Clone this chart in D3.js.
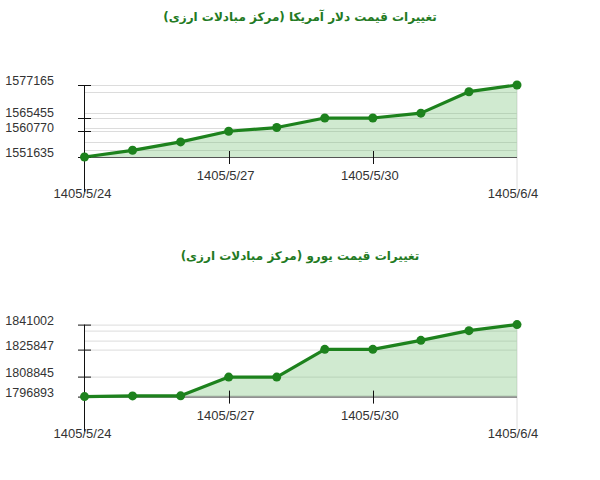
<!DOCTYPE html>
<html>
<head>
<meta charset="utf-8">
<script src="https://cdn.jsdelivr.net/npm/d3@7"></script>
<style>
  body { margin: 0; background: #fff; }
  svg { display: block; }
</style>
</head>
<body>
<svg id="chart" width="600" height="480"></svg>
<script>
// برچسب تاریخ‌ها (فقط چهار تاریخ روی نمودار نوشته شده)
const dateLabels = ['1405/5/24', '', '', '1405/5/27', '', '', '1405/5/30', '', '', '1405/6/4'];

// قیمت دلار
const usdTitle = 'تغییرات قیمت دلار آمریکا (مرکز مبادلات ارزی)';
const usdValues = [1551635, 1554010, 1556978, 1560770, 1562084, 1565455, 1565455, 1567190, 1574790, 1577165];

// قیمت یورو
const eurTitle = 'تغییرات قیمت یورو (مرکز مبادلات ارزی)';
const eurValues = [1796893, 1797303, 1797350, 1808845, 1808845, 1825847, 1825847, 1831360, 1837309, 1841002];

const svg = d3.select('#chart');

const x0 = 84.5, x1 = 517;
const plotTop = 85, plotBottom = 157;
const green = '#1d821d';

function drawChart(offsetY, title, values) {
  const g = svg.append('g').attr('transform', `translate(0, ${offsetY})`);

  const x = d3.scalePoint().domain(d3.range(values.length)).range([x0, x1]);
  const y = d3.scaleLinear().domain(d3.extent(values)).range([plotBottom, plotTop]);

  // عنوان
  g.append('text')
    .attr('x', 300).attr('y', 17)
    .attr('text-anchor', 'middle')
    .attr('dominant-baseline', 'middle')
    .attr('direction', 'rtl')
    .style('font-family', '"DejaVu Sans", sans-serif')
    .style('font-size', '12px')
    .style('font-weight', 'bold')
    .style('fill', '#237a23')
    .text(title);

  // خطوط راهنما برای هر مقدار
  const uniq = Array.from(new Set(values));
  g.selectAll('.grid')
    .data(uniq)
    .enter().append('line')
    .attr('x1', x0).attr('x2', x1)
    .attr('y1', d => Math.round(y(d)) + 0.5)
    .attr('y2', d => Math.round(y(d)) + 0.5)
    .attr('stroke', '#dcdcdc');

  // خط عمودی سمت راست
  g.append('line')
    .attr('x1', x1).attr('x2', x1)
    .attr('y1', plotTop).attr('y2', 190)
    .attr('stroke', '#dcdcdc');

  // ناحیه زیر نمودار
  const area = d3.area()
    .x((d, i) => x(i))
    .y0(plotBottom)
    .y1(d => y(d));

  g.append('path')
    .datum(values)
    .attr('d', area)
    .attr('fill', 'rgba(120, 195, 120, 0.35)');

  // خط پایه
  g.append('line')
    .attr('x1', x0).attr('x2', x1)
    .attr('y1', plotBottom + 0.5).attr('y2', plotBottom + 0.5)
    .attr('stroke', '#555');

  // محور عمودی
  g.append('line')
    .attr('x1', x0).attr('x2', x0)
    .attr('y1', plotTop).attr('y2', 192)
    .attr('stroke', '#111');

  // تیک‌های محور y: مقادیر روزهای برچسب‌دار
  const tickIdx = d3.range(values.length).filter(i => dateLabels[i] !== '');
  const yTicks = tickIdx.map(i => values[i]);

  g.selectAll('.ytick')
    .data(yTicks)
    .enter().append('line')
    .attr('x1', 78).attr('x2', 91)
    .attr('y1', d => Math.round(y(d)) + 0.5)
    .attr('y2', d => Math.round(y(d)) + 0.5)
    .attr('stroke', '#111');

  // جای برچسب‌ها؛ اگر خیلی نزدیک باشند کمی از هم دور می‌شوند
  const labelPos = yTicks.map(d => ({ v: d, ly: y(d) - 3 }));
  labelPos.sort((a, b) => a.ly - b.ly);
  for (let k = 1; k < labelPos.length; k++) {
    const gap = labelPos[k].ly - labelPos[k - 1].ly;
    if (gap < 15) {
      const push = (15 - gap) / 2;
      labelPos[k - 1].ly -= push;
      labelPos[k].ly += push;
    }
  }

  g.selectAll('.ylabel')
    .data(labelPos)
    .enter().append('text')
    .attr('x', 54)
    .attr('y', d => d.ly)
    .attr('text-anchor', 'end')
    .attr('dominant-baseline', 'middle')
    .style('font-family', '"Liberation Sans", Arial, sans-serif')
    .style('font-size', '12.5px')
    .style('fill', '#333')
    .text(d => d.v);

  // تیک‌ها و برچسب‌های محور x
  const last = values.length - 1;
  g.selectAll('.xtick')
    .data(tickIdx.filter(i => i !== 0 && i !== last))
    .enter().append('line')
    .attr('x1', i => Math.round(x(i)) + 0.5)
    .attr('x2', i => Math.round(x(i)) + 0.5)
    .attr('y1', plotBottom - 6).attr('y2', plotBottom + 7)
    .attr('stroke', '#111');

  g.selectAll('.xlabel')
    .data(tickIdx)
    .enter().append('text')
    .attr('x', i => x(i) + (i === last ? -4 : (i === 0 ? -2 : -3)))
    .attr('y', i => (i === 0 || i === last) ? 195 : 177)
    .attr('text-anchor', 'middle')
    .attr('dominant-baseline', 'middle')
    .style('font-family', '"Liberation Sans", Arial, sans-serif')
    .style('font-size', '13px')
    .style('fill', '#333')
    .text(i => dateLabels[i]);

  // خط نمودار
  const line = d3.line()
    .x((d, i) => x(i))
    .y(d => y(d));

  g.append('path')
    .datum(values)
    .attr('d', line)
    .attr('fill', 'none')
    .attr('stroke', green)
    .attr('stroke-width', 3.2)
    .attr('stroke-linejoin', 'round');

  g.selectAll('.pt')
    .data(values)
    .enter().append('circle')
    .attr('cx', (d, i) => x(i))
    .attr('cy', d => y(d))
    .attr('r', 4.5)
    .attr('fill', green);
}

drawChart(0, usdTitle, usdValues);
drawChart(239.6, eurTitle, eurValues);
</script>
</body>
</html>
